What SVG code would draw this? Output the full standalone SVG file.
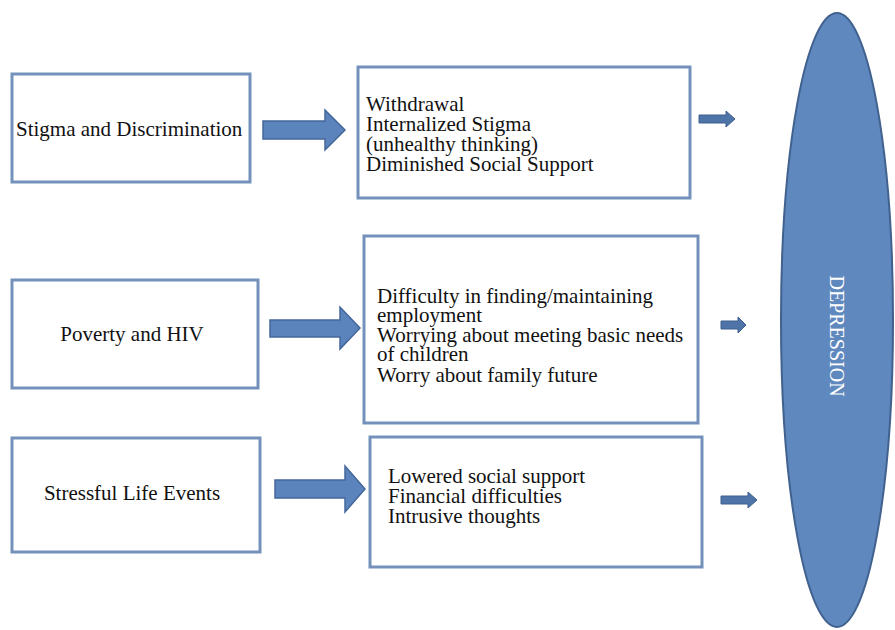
<svg xmlns="http://www.w3.org/2000/svg" width="895" height="630" viewBox="0 0 895 630">
<defs>
<style>
.box{fill:#ffffff;stroke:#7391bb;stroke-width:3}
.t{font-family:"Liberation Serif","Times New Roman",serif;font-size:21px;fill:#111}
.arr{fill:#5b84bd;stroke:#44679a;stroke-width:1.5}
.sarr{fill:#4f74a8;stroke:#3f5f8e;stroke-width:1}
.ell{fill:#5f88be;stroke:#41618f;stroke-width:2}
.dep{font-family:"Liberation Serif","Times New Roman",serif;font-size:20px;fill:#ffffff}
</style>
</defs>
<rect width="895" height="630" fill="#ffffff"/>
<g id="depression">
<ellipse class="ell" cx="837" cy="320" rx="56" ry="307"/>
<text class="dep" transform="translate(830,336) rotate(90)" text-anchor="middle">DEPRESSION</text>
</g>
<g id="stigma">
<rect class="box" x="12" y="74" width="238" height="108"/>
<text class="t" x="16" y="136">Stigma and Discrimination</text>
</g>
<g id="stigma-effects">
<rect class="box" x="358" y="67" width="332" height="131"/>
<text class="t" x="366" y="111">Withdrawal</text>
<text class="t" x="366" y="131">Internalized Stigma</text>
<text class="t" x="366" y="151">(unhealthy thinking)</text>
<text class="t" x="366" y="171">Diminished Social Support</text>
</g>
<g id="poverty">
<rect class="box" x="12" y="280" width="246" height="108"/>
<text class="t" x="132" y="341" text-anchor="middle">Poverty and HIV</text>
</g>
<g id="poverty-effects">
<rect class="box" x="364" y="236" width="334" height="187"/>
<text class="t" x="377" y="303">Difficulty in finding/maintaining</text>
<text class="t" x="377" y="322">employment</text>
<text class="t" x="377" y="342">Worrying about meeting basic needs</text>
<text class="t" x="377" y="361">of children</text>
<text class="t" x="377" y="382">Worry about family future</text>
</g>
<g id="stress">
<rect class="box" x="12" y="438" width="248" height="114"/>
<text class="t" x="132" y="500" text-anchor="middle">Stressful Life Events</text>
</g>
<g id="stress-effects">
<rect class="box" x="370" y="437" width="332" height="130"/>
<text class="t" x="388" y="483">Lowered social support</text>
<text class="t" x="388" y="503">Financial difficulties</text>
<text class="t" x="388" y="523">Intrusive thoughts</text>
</g>
<g id="connectors">
<path class="arr" d="M263,121 H325 V110 L345,130 L325,150 V139 H263 Z"/>
<path class="arr" d="M270,320 H340 V307 L360,328 L340,349 V337 H270 Z"/>
<path class="arr" d="M275,480 H345 V466 L365,489 L345,512 V498 H275 Z"/>
<path class="sarr" d="M699,115 H726 V111 L735,119 L726,127 V123 H699 Z"/>
<path class="sarr" d="M721,321 H738 V317 L746,325 L738,333 V329 H721 Z"/>
<path class="sarr" d="M721,496 H748 V492 L757,500 L748,508 V504 H721 Z"/>
</g>
</svg>
